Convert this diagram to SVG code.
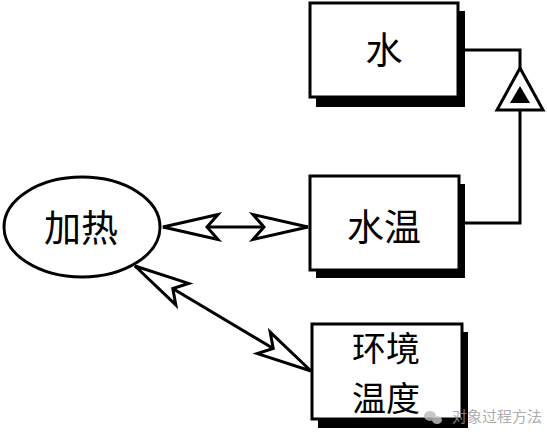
<svg xmlns="http://www.w3.org/2000/svg" width="547" height="440" viewBox="0 0 547 440">
<style>
.box{fill:#fff;stroke:#000;stroke-width:3}
.shadow{fill:#000}
.lbl{font-family:"Noto Sans CJK SC","Noto Sans CJK JP",sans-serif;font-size:37px;fill:#000;text-anchor:middle}
.lbl2{font-size:34px}
.conn{fill:none;stroke:#000;stroke-width:3}
.wm{font-family:"Noto Sans CJK SC",sans-serif;font-size:15px;fill:#9a9a9a}
</style>
<defs>
<marker id="arr" markerUnits="userSpaceOnUse" viewBox="-60 -16 64 32" markerWidth="64" markerHeight="32" refX="0" refY="0" orient="auto-start-reverse" overflow="visible">
<path d="M0,0 L-55,-12.5 L-44,0 L-55,12.5 Z" fill="#fff" stroke="#000" stroke-width="3" stroke-linejoin="miter"/>
</marker>
</defs>
<rect width="547" height="440" fill="#fff"/>
<g id="connectors">
<path class="conn" d="M465,223 H520 V110"/>
<path class="conn" d="M520,68 V50 H465"/>
<g id="exhibit">
<polygon points="520,68 543,110 497,110" fill="#fff" stroke="#000" stroke-width="3"/>
<polygon points="520,86 530,103 510,103" fill="#000"/>
</g>
<line class="conn" x1="163" y1="227" x2="308" y2="227" marker-start="url(#arr)" marker-end="url(#arr)"/>
<line class="conn" x1="135" y1="266" x2="311" y2="371" marker-start="url(#arr)" marker-end="url(#arr)"/>
</g>
<g id="water">
<rect class="shadow" x="316" y="11" width="149" height="96"/>
<rect class="box" x="310" y="3" width="148" height="94"/>
<text class="lbl" x="384" y="64">水</text>
</g>
<g id="watertemp">
<rect class="shadow" x="316" y="184" width="149" height="94"/>
<rect class="box" x="310" y="176" width="149" height="94"/>
<text class="lbl" x="384" y="241">水温</text>
</g>
<g id="envtemp">
<rect class="shadow" x="318" y="332" width="150" height="96"/>
<rect class="box" x="312" y="324" width="150" height="95"/>
<text class="lbl lbl2" x="386" y="361">环境</text>
<text class="lbl lbl2" x="386" y="411">温度</text>
</g>
<g id="heating">
<ellipse class="box" cx="82" cy="227" rx="78" ry="50"/>
<text class="lbl" x="81" y="242">加热</text>
</g>
<g id="watermark" opacity="0.8">
<ellipse cx="430" cy="416" rx="6" ry="5" fill="#bbb"/>
<ellipse cx="437" cy="420" rx="5" ry="4" fill="#ccc"/>
<text class="wm" x="452" y="422">对象过程方法</text>
</g>
</svg>
